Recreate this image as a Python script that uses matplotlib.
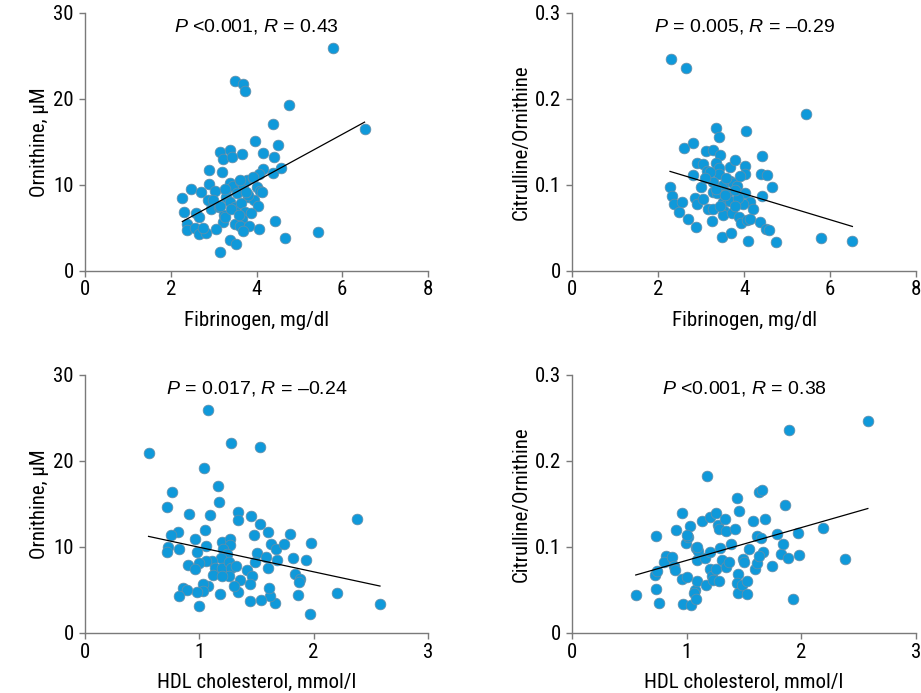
import numpy as np
import matplotlib
matplotlib.use("Agg")
import matplotlib.pyplot as plt

plt.rcParams['font.family'] = ['Roboto Condensed', 'DejaVu Sans']
plt.rcParams['mathtext.fontset'] = 'custom'
plt.rcParams['mathtext.it'] = 'Liberation Sans:italic'
plt.rcParams['mathtext.rm'] = 'Liberation Sans'

# Panel A: Fibrinogen vs Ornithine
fib_a = [5.79, 3.51, 3.69, 3.73, 4.75, 4.39, 6.52, 3.96, 4.51, 3.15, 3.39, 3.21, 3.44, 3.67, 4.16, 4.41,
         2.90, 3.19, 4.16, 4.39, 4.58, 2.89, 3.04, 2.48, 2.71, 2.27, 2.87, 2.99, 2.95, 3.13, 3.28, 3.39,
         3.46, 3.29, 3.38, 3.50, 3.61, 3.69, 3.81, 3.65, 3.77, 3.91, 4.06, 4.00, 4.08, 3.95, 4.04, 3.73,
         3.88, 2.32, 2.60, 2.66, 3.25, 3.23, 3.67, 3.50, 3.61, 3.82, 3.69, 2.37, 2.38, 2.56, 2.65, 2.83,
         3.05, 4.05, 4.43, 4.67, 5.44, 3.39, 3.53, 3.15, 3.62, 3.93, 3.27, 3.81, 3.15, 3.27, 4.12, 3.55,
         3.75, 3.40, 3.60, 2.75]
orn_a = [25.85, 22.05, 21.67, 20.93, 19.22, 17.05, 16.43, 15.10, 14.65, 13.76, 14.03, 13.02, 13.26, 13.60,
         13.72, 13.18, 11.70, 11.43, 11.78, 11.40, 11.90, 10.04, 9.22, 9.50, 9.10, 8.41, 8.22, 8.22, 7.13,
         7.44, 9.38, 10.23, 9.84, 8.60, 8.02, 7.44, 10.43, 9.96, 8.60, 7.90, 10.54, 10.81, 11.20, 9.77,
         9.30, 8.22, 7.52, 6.86, 6.67, 6.78, 6.67, 6.20, 6.47, 5.62, 6.00, 5.43, 5.19, 5.19, 4.61, 5.43,
         4.73, 4.92, 4.22, 4.34, 4.84, 4.81, 5.81, 3.84, 4.53, 3.57, 3.06, 2.13, 10.55, 10.86, 9.46, 8.80,
         7.50, 6.28, 9.19, 9.00, 9.20, 7.20, 6.50, 5.00]

# Panel B: Fibrinogen vs Citrulline/Ornithine
fib_b = [2.30, 2.66, 5.44, 3.36, 4.05, 3.42, 2.60, 2.81, 3.12, 3.27, 3.44, 4.41, 2.90, 3.04, 3.36, 3.67,
         3.79, 4.03, 3.14, 3.42, 3.42, 2.82, 4.03, 4.39, 4.53, 2.28, 2.32, 2.38, 2.55, 2.48, 2.70, 2.88,
         2.87, 2.91, 3.04, 3.01, 3.29, 3.27, 3.38, 3.52, 3.67, 3.75, 3.84, 3.60, 3.50, 3.67, 3.53, 3.16,
         3.27, 3.25, 3.52, 3.72, 3.88, 3.94, 4.02, 4.14, 4.22, 3.97, 4.06, 4.14, 4.42, 4.65, 4.37, 4.50,
         4.58, 3.49, 3.69, 4.10, 4.75, 5.79, 6.52, 3.86, 3.79, 3.20, 3.35, 3.55, 3.45, 3.80, 3.10, 3.90, 3.58]
cit_b = [0.246, 0.236, 0.182, 0.166, 0.163, 0.156, 0.143, 0.148, 0.139, 0.140, 0.134, 0.133, 0.125, 0.124,
         0.125, 0.121, 0.129, 0.122, 0.116, 0.119, 0.112, 0.111, 0.112, 0.112, 0.111, 0.097, 0.087, 0.078,
         0.080, 0.068, 0.060, 0.051, 0.084, 0.077, 0.083, 0.097, 0.103, 0.091, 0.090, 0.100, 0.104, 0.102,
         0.098, 0.090, 0.080, 0.081, 0.070, 0.072, 0.072, 0.058, 0.065, 0.067, 0.062, 0.056, 0.090, 0.080,
         0.072, 0.078, 0.059, 0.060, 0.087, 0.097, 0.057, 0.049, 0.047, 0.039, 0.044, 0.034, 0.033, 0.038,
         0.034, 0.085, 0.094, 0.115, 0.095, 0.088, 0.075, 0.075, 0.108, 0.110, 0.108]

# Panel C: HDL vs Ornithine
hdl_c = [0.556, 1.08, 1.28, 1.53, 1.04, 1.16, 1.17, 0.76, 0.72, 0.91, 1.09, 1.34, 1.34, 1.45, 1.53, 1.60,
         1.79, 2.38, 0.81, 0.75, 1.05, 0.96, 1.06, 0.73, 0.72, 0.82, 0.98, 1.20, 1.27, 1.27, 1.21, 1.24,
         1.19, 1.11, 1.06, 1.00, 0.90, 0.96, 1.14, 1.12, 1.20, 1.26, 1.28, 1.32, 1.26, 1.20, 1.36, 1.42,
         1.46, 1.44, 1.48, 1.50, 1.49, 1.58, 1.60, 1.63, 1.67, 1.68, 1.74, 1.82, 1.84, 1.88, 1.87, 1.93,
         1.98, 1.86, 2.20, 2.58, 1.97, 1.66, 1.62, 1.61, 1.54, 1.44, 1.34, 1.30, 1.18, 1.08, 1.03, 1.03,
         0.98, 1.00, 0.86, 0.89, 0.82]
orn_c = [20.90, 25.90, 22.07, 21.68, 19.24, 17.11, 15.18, 16.41, 14.60, 13.82, 13.74, 14.05, 13.16, 13.63,
         12.70, 11.69, 11.46, 13.28, 11.80, 11.42, 11.92, 10.92, 10.07, 9.99, 9.45, 9.76, 9.37, 10.53,
         10.96, 10.26, 9.76, 9.21, 8.67, 8.32, 8.40, 8.13, 7.94, 7.43, 7.59, 6.78, 7.51, 8.21, 7.59, 7.82,
         6.58, 6.58, 6.19, 7.28, 6.66, 5.69, 11.42, 9.29, 8.21, 8.83, 7.55, 10.38, 9.76, 8.44, 10.38, 8.71,
         6.85, 6.27, 5.88, 8.52, 10.49, 4.37, 4.65, 3.41, 2.17, 3.52, 4.34, 5.23, 3.87, 3.68, 4.76, 5.42,
         4.57, 5.50, 5.69, 4.84, 4.80, 3.10, 5.23, 4.96, 4.26]

# Panel D: HDL vs Citrulline/Ornithine
hdl_d = [0.556, 0.73, 0.72, 0.74, 0.73, 0.76, 0.82, 0.80, 0.87, 0.89, 0.90, 0.91, 0.96, 0.99, 1.01, 1.03,
         0.96, 1.00, 0.97, 1.04, 1.07, 1.06, 1.09, 1.08, 1.08, 1.09, 1.10, 1.13, 1.16, 1.17, 1.18, 1.20,
         1.20, 1.22, 1.23, 1.20, 1.26, 1.27, 1.28, 1.29, 1.28, 1.26, 1.31, 1.33, 1.34, 1.34, 1.37, 1.39,
         1.42, 1.44, 1.46, 1.45, 1.44, 1.45, 1.48, 1.49, 1.50, 1.53, 1.54, 1.53, 1.58, 1.60, 1.61, 1.61,
         1.65, 1.63, 1.66, 1.68, 1.67, 1.63, 1.74, 1.79, 1.82, 1.84, 1.86, 1.88, 1.89, 1.93, 1.97, 1.98,
         2.19, 2.38, 2.58, 1.00, 1.09]
cit_d = [0.0445, 0.113, 0.068, 0.072, 0.051, 0.035, 0.090, 0.082, 0.088, 0.078, 0.073, 0.120, 0.139, 0.105,
         0.112, 0.124, 0.063, 0.065, 0.034, 0.032, 0.050, 0.046, 0.061, 0.039, 0.099, 0.085, 0.095, 0.130,
         0.087, 0.056, 0.182, 0.135, 0.074, 0.066, 0.062, 0.094, 0.140, 0.126, 0.121, 0.099, 0.060, 0.075,
         0.085, 0.132, 0.119, 0.077, 0.082, 0.103, 0.121, 0.157, 0.142, 0.069, 0.058, 0.046, 0.056, 0.086,
         0.082, 0.061, 0.098, 0.045, 0.130, 0.074, 0.081, 0.113, 0.111, 0.164, 0.166, 0.132, 0.094, 0.090,
         0.078, 0.115, 0.092, 0.103, 0.149, 0.087, 0.236, 0.039, 0.116, 0.091, 0.122, 0.086, 0.247, 0.114,
         0.100]

# Regression lines (slope, intercept)
fit_a = (2.72, -0.46)
fit_b = (-0.0151, 0.1499)
fit_c = (-2.853, 12.82)
fit_d = (0.0382, 0.0462)

titles = [r'$P$ <0.001, $R$ = 0.43', r'$P$ = 0.005, $R$ = –0.29',
          r'$P$ = 0.017, $R$ = –0.24', r'$P$ <0.001, $R$ = 0.38']
xlabels = ['Fibrinogen, mg/dl', 'Fibrinogen, mg/dl', 'HDL cholesterol, mmol/l', 'HDL cholesterol, mmol/l']
ylabels = ['Ornithine, µM', 'Citrulline/Ornithine', 'Ornithine, µM', 'Citrulline/Ornithine']
xticks_fib = [0, 2, 4, 6, 8]
xticks_hdl = [0, 1, 2, 3]
yticks_orn = [0, 10, 20, 30]
yticks_cit = [0, 0.1, 0.2, 0.3]
yticklabels_cit = ['0', '0.1', '0.2', '0.3']

fig = plt.figure(figsize=(9.21, 6.93), dpi=100)
W, H = 921, 693
positions = [(85, 12.7, 428, 270.7), (572, 12.7, 916, 270.7),
             (85, 375, 428, 633), (572, 375, 916, 633)]

panels = [(fib_a, orn_a, fit_a, xticks_fib, yticks_orn, None),
          (fib_b, cit_b, fit_b, xticks_fib, yticks_cit, yticklabels_cit),
          (hdl_c, orn_c, fit_c, xticks_hdl, yticks_orn, None),
          (hdl_d, cit_d, fit_d, xticks_hdl, yticks_cit, yticklabels_cit)]

spine_col = '#7a7a7a'
for i, (x, y, fit, xt, yt, ytl) in enumerate(panels):
    l, t, r, b = positions[i]
    ax = fig.add_axes([l / W, 1 - b / H, (r - l) / W, (b - t) / H])
    x = np.array(x); y = np.array(y)
    ax.scatter(x, y, s=60, color='#0f99da', edgecolors='#6a8ea6', linewidths=0.5, zorder=3,
               clip_on=False)
    xx = np.array([x.min(), x.max()])
    ax.plot(xx, fit[0] * xx + fit[1], color='black', lw=0.9, zorder=4)
    ax.set_xlim(xt[0], xt[-1])
    ax.set_ylim(yt[0], yt[-1])
    ax.set_xticks(xt)
    ax.set_yticks(yt)
    if ytl:
        ax.set_yticklabels(ytl)
    for s in ['top', 'right']:
        ax.spines[s].set_visible(False)
    for s in ['left', 'bottom']:
        ax.spines[s].set_color(spine_col)
        ax.spines[s].set_linewidth(1.0)
    ax.tick_params(axis='both', direction='out', length=4, width=1.0, color=spine_col,
                   labelsize=15)
    ax.tick_params(axis='y', pad=4)
    ax.tick_params(axis='x', pad=3)
    ax.set_xlabel(xlabels[i], fontsize=15, labelpad=8)
    ax.set_ylabel(ylabels[i], fontsize=15, labelpad=3)
    ax.text(0.5, 0.985, titles[i], transform=ax.transAxes, ha='center', va='top',
            fontsize=14, family='Liberation Sans')

fig.savefig('out.png', dpi=100)
